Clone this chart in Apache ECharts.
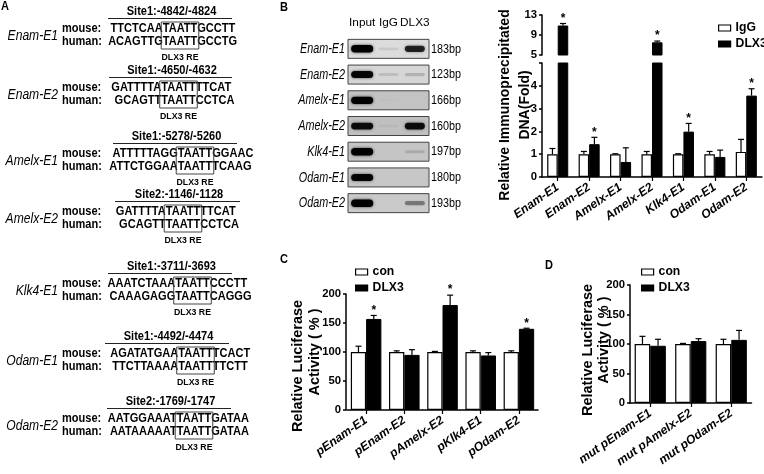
<!DOCTYPE html>
<html><head><meta charset="utf-8">
<script src="https://cdn.jsdelivr.net/npm/echarts@6/dist/echarts.min.js"></script>
<style>html,body{margin:0;padding:0;background:#fff}#c{width:764px;height:474px}</style>
</head><body><div id="c"></div>
<script>
// ---------------- DATA ----------------
// Panel A
const promoterNames = ['Enam-E1','Enam-E2','Amelx-E1','Amelx-E2','Klk4-E1','Odam-E1','Odam-E2'];
const siteLabels = ['Site1:-4842/-4824','Site1:-4650/-4632','Site1:-5278/-5260','Site2:-1146/-1128','Site1:-3711/-3693','Site1:-4492/-4474','Site2:-1769/-1747'];
const mouseSeqs = [['TTCTCAA','TAATT','GCCTT'],['GATTTTA','TAATT','TTCAT'],['ATTTTTAGG','TAATT','GGAAC'],['GATTTTA','TAATT','TTCAT'],['AAATCTAAA','TAATT','CCCTT'],['AGATATGAA','TAATT','TCACT'],['AATGGAAAT','TAATT','GATAA']];
const humanSeqs = [['ACAGTTG','TAATT','GCCTG'],['GCAGTT','TAATT','CCTCA'],['ATTCTGGAA','TAATT','TCAAG'],['GCAGTT','TAATT','CCTCA'],['CAAAGAGG','TAATT','CAGGG'],['TTCTTAAAA','TAATT','TTCTT'],['AATAAAAAT','TAATT','GATAA']];
const speciesLabels = ['mouse:','human:'];
const elementLabel = 'DLX3 RE';
// Panel B gel
const gelLanes = ['Input','IgG','DLX3'];
const gelRows = ['Enam-E1','Enam-E2','Amelx-E1','Amelx-E2','Klk4-E1','Odam-E1','Odam-E2'];
const gelBandSizes = ['183bp','123bp','166bp','160bp','197bp','180bp','193bp'];
const gelIntensity = [[1.0,0.08,0.75],[0.9,0.1,0.15],[0.95,0.02,0],[0.85,0.04,0.85],[1.0,0,0.12],[0.9,0,0],[1.0,0,0.35]];
// Panel B ChIP-qPCR
const chipCategories = ['Enam-E1','Enam-E2','Amelx-E1','Amelx-E2','Klk4-E1','Odam-E1','Odam-E2'];
const chipIgG = [1.0,1.0,1.0,1.0,1.0,1.0,1.1];
const chipIgGErr = [0.25,0.12,0.02,0.12,0.02,0.12,0.55];
const chipDLX3 = [10.9,1.44,0.66,7.54,1.99,0.88,3.57];
const chipDLX3Err = [0.4,0.3,0.62,0.25,0.36,0.3,0.3];
const chipSig = [1,1,0,1,1,0,1];
const chipBreak = 5;
const chipTop = 13;
// Panel C
const lucCategories = ['pEnam-E1','pEnam-E2','pAmelx-E2','pKlk4-E1','pOdam-E2'];
const lucCon = [100,100,100,100,100];
const lucConErr = [10,2,1,2,2];
const lucDLX3 = [157,95,181,94,140];
const lucDLX3Err = [6,9,17,5,1];
const lucSig = [1,0,1,0,1];
// Panel D
const mutCategories = ['mut pEnam-E1','mut pAmelx-E2','mut pOdam-E2'];
const mutCon = [100,100,100];
const mutConErr = [13,1,8];
const mutDLX3 = [97,105,107];
const mutDLX3Err = [11,4,16];
const mutSig = [0,0,0];

// ---------------- LAYOUT / STYLE ----------------
const blockY = [12,71,137,195,267,337,402];
const boxCX = [180,178.5,195,183,192.5,195.5,194];
const siteLineX = [[108,232],[109,232],[113,237],[115,240],[108,232],[105,229],[107,231]];
const gelShade = ['#dcdcdc','#d6d6d6','#c3c3c3','#c0c0c0','#c5c5c5','#c7c7c7','#cacaca'];
const LS = '"Liberation Sans", Arial, sans-serif';

function hasFont(name){
  const c=document.createElement('canvas').getContext('2d');
  const s='abcdefghijklmnopqrstuvwxyz ABCDEFGHIJ 0123456789';
  let diff=false;
  ['monospace','serif'].forEach(fb=>{c.font='24px '+fb;const a=c.measureText(s).width;c.font='24px "'+name+'", '+fb;const b=c.measureText(s).width;if(Math.abs(a-b)>0.5)diff=true;});
  return diff;
}
const NARROW = hasFont('Liberation Sans Narrow');
function af(size){return NARROW?{fontFamily:'"Liberation Sans Narrow"',fontSize:size}:{fontFamily:'"Liberation Sans"',fontSize:Math.round(size*0.84*10)/10};}
const mctx=document.createElement('canvas').getContext('2d');
function textW(t,font){mctx.font=font;return mctx.measureText(t).width;}

function txt(x,y,text,font,align,valign,extra){
  return Object.assign({type:'text',x:x,y:y,silent:true,style:{text:text,font:font,fill:'#000',align:align,textAlign:align,verticalAlign:valign,textVerticalAlign:valign}},extra||{});
}

// ---------------- GRAPHIC (panel A, letters, titles) ----------------
const seqFont='bold 12px '+LS;
const SQ=0.92;
const G=[];
G.push(txt(1,6,'A','bold 13px '+LS,'left','middle',{scaleX:0.85}));
G.push(txt(280,7,'B','bold 13px '+LS,'left','middle',{scaleX:0.85}));
G.push(txt(280,259,'C','bold 13px '+LS,'left','middle',{scaleX:0.85}));
G.push(txt(545,265,'D','bold 13px '+LS,'left','middle',{scaleX:0.85}));
promoterNames.forEach((name,i)=>{
  const Y=blockY[i], cx=boxCX[i];
  const cw=textW('TAATT',seqFont)*SQ;
  G.push(txt(58,Y+24,name,'italic 15.5px '+LS,'right','middle',{scaleX:0.78}));
  const lx=siteLineX[i];
  G.push(txt((lx[0]+lx[1])/2+1.5,Y,siteLabels[i],seqFont,'center','middle',{scaleX:SQ}));
  G.push({type:'line',silent:true,shape:{x1:lx[0],y1:Y+6.5,x2:lx[1],y2:Y+6.5},style:{stroke:'#222',lineWidth:1}});
  [mouseSeqs[i],humanSeqs[i]].forEach((seq,k)=>{
    const yy=Y+16.5+k*13.5;
    G.push(txt(62,yy,speciesLabels[k],seqFont,'left','middle',{scaleX:SQ}));
    G.push(txt(cx-cw/2,yy,seq[0],seqFont,'right','middle',{scaleX:SQ}));
    G.push(txt(cx,yy,seq[1],seqFont,'center','middle',{scaleX:SQ}));
    G.push(txt(cx+cw/2,yy,seq[2],seqFont,'left','middle',{scaleX:SQ}));
  });
  G.push({type:'rect',silent:true,shape:{x:cx-cw/2-1.5,y:Y+10,width:cw+3,height:27},style:{fill:'none',stroke:'#444',lineWidth:1}});
  G.push(txt(cx,Y+45,elementLabel,'bold 9.5px '+LS,'center','middle',{scaleX:0.92}));
});
// axis titles
function vtitle(x,y,t,size){return txt(x,y,t,'bold '+size+'px '+LS,'center','middle',{rotation:Math.PI/2});}
G.push(vtitle(505,105,'Relative Immunoprecipitated',14));
G.push(vtitle(525,105,'DNA(Fold)',14));
G.push(vtitle(298,366,'Relative Luciferase',14.5));
G.push(vtitle(315,352,'Activity ( % )',14.5));
G.push(vtitle(588,350,'Relative Luciferase',14.5));
G.push(vtitle(604,340,'Activity ( % )',14.5));

// ---------------- SERIES HELPERS ----------------
function makeErr(gap){
  return function(params,api){
    const cat=api.value(0),v=api.value(1),e=api.value(2),side=api.value(3),sig=api.value(4);
    const base=api.coord([cat,v]);const top=api.coord([cat,v+e]);
    const band=api.size([1,0])[0];const bw=band*(1-gap)/2;
    const x=base[0]+(side?bw/2:-bw/2);
    const ch=[];
    if(e>0){
      ch.push({type:'line',shape:{x1:x,y1:base[1],x2:x,y2:top[1]},style:{stroke:'#000',lineWidth:1.2}});
      ch.push({type:'line',shape:{x1:x-3,y1:top[1],x2:x+3,y2:top[1]},style:{stroke:'#000',lineWidth:1.2}});
    }
    if(sig)ch.push({type:'text',x:x,y:top[1]-5,style:{text:'*',font:'bold 12px '+LS,fill:'#000',align:'center',textAlign:'center',verticalAlign:'middle',textVerticalAlign:'middle'}});
    return {type:'group',children:ch};
  };
}
function errData(vals,errs,side,sig,filter){
  const out=[];vals.forEach((v,i)=>{if(!filter||filter(v))out.push([i,v,errs[i],side,sig?sig[i]:0]);});return out;
}
const whiteBar={color:'#fff',borderColor:'#000',borderWidth:1.2};
const blackBar={color:'#000',borderColor:'#000',borderWidth:1};

function gelFrame(params,api){
  const row=api.value(1);const cs=params.coordSys;const cy=api.coord([0,row])[1];const h=19;
  return {type:'group',children:[
    {type:'rect',shape:{x:cs.x-1,y:cy-h/2,width:cs.width+2,height:h},style:{fill:gelShade[row],stroke:'#444',lineWidth:1}},
    {type:'text',x:cs.x-4,y:cy,scaleX:0.72,style:{text:gelRows[row],font:'italic 15px '+LS,fill:'#000',align:'right',textAlign:'right',verticalAlign:'middle',textVerticalAlign:'middle'}},
    {type:'text',x:cs.x+cs.width+3,y:cy,scaleX:0.8,style:{text:gelBandSizes[row],font:'13.5px '+LS,fill:'#000',align:'left',textAlign:'left',verticalAlign:'middle',textVerticalAlign:'middle'}}
  ]};
}
function gelBand(params,api){
  const lane=api.value(0),row=api.value(1),v=api.value(2);
  const p=api.coord([lane,row]);const w=lane===0?22:20;const h=2.5+5*v;
  return {type:'rect',shape:{x:p[0]-w/2,y:p[1]-h/2,width:w,height:h,r:h/2},style:{fill:'rgba(0,0,0,'+Math.min(1,v*1.05)+')',shadowBlur:3,shadowColor:'rgba(0,0,0,'+(v*0.7)+')'}};
}
const gelData=[];gelIntensity.forEach((r,i)=>r.forEach((v,j)=>{if(v>0)gelData.push([j,i,v]);}));

// ---------------- AXES ----------------
const xLab=Object.assign({interval:0,rotate:35,margin:9,color:'#000',fontWeight:'bold',fontStyle:'italic'},af(14.5));
function yAx(gi,min,max,interval,extra){
  return Object.assign({type:'value',gridIndex:gi,min:min,max:max,interval:interval,
    axisLine:{show:true,lineStyle:{color:'#000',width:1.5}},
    axisTick:{show:true,length:3,lineStyle:{color:'#000',width:1.5}},
    splitLine:{show:false},
    axisLabel:Object.assign({color:'#000',fontWeight:'bold',margin:5},af(13.5))},extra||{});
}
function xAx(gi,data,extra){
  return Object.assign({type:'category',gridIndex:gi,data:data,
    axisLine:{show:true,lineStyle:{color:'#000',width:1.5}},
    axisTick:{show:true,alignWithLabel:true,length:4,lineStyle:{color:'#000',width:1.2}},
    axisLabel:xLab},extra||{});
}
const legText=Object.assign({color:'#000',fontWeight:'bold',lineHeight:13},af(14.5));
function leg(data,left,top){return {data:data,left:left,top:top,orient:'vertical',icon:'rect',itemWidth:12,itemHeight:6,itemGap:3,itemStyle:{borderWidth:1.2,borderColor:'#000'},textStyle:legText,selectedMode:false};}

const option={
  animation:false,backgroundColor:'#fff',
  grid:[
    {left:349,top:36,width:79,height:180},
    {left:542,top:63,width:220,height:114},
    {left:542,top:15,width:220,height:40},
    {left:347,top:294,width:191,height:116},
    {left:630,top:285,width:121.5,height:118}
  ],
  xAxis:[
    {type:'category',gridIndex:0,data:gelLanes,position:'top',axisLine:{show:false},axisTick:{show:false},axisLabel:Object.assign({interval:0,color:'#000',margin:7},af(14))},
    xAx(1,chipCategories),
    xAx(2,chipCategories,{show:false}),
    xAx(3,lucCategories),
    xAx(4,mutCategories)
  ],
  yAxis:[
    {type:'category',gridIndex:0,data:gelRows,inverse:true,show:false},
    yAx(1,0,chipBreak,1,{axisLabel:Object.assign({color:'#000',fontWeight:'bold',margin:5,formatter:v=>v===chipBreak?'':String(v)},af(13.5))}),
    yAx(2,chipBreak,chipTop,4),
    yAx(3,0,200,50,{offset:1}),
    yAx(4,0,200,50)
  ],
  legend:[leg(['IgG','DLX3'],713,16.5),leg(['con','DLX3'],350,260.5),leg(['con','DLX3'],636,260.5)],
  series:[
    {type:'custom',xAxisIndex:0,yAxisIndex:0,data:gelRows.map((n,i)=>[0,i]),encode:{x:0,y:1},renderItem:gelFrame,silent:true,z:1},
    {type:'custom',xAxisIndex:0,yAxisIndex:0,data:gelData,encode:{x:0,y:1},renderItem:gelBand,silent:true,z:2},
    {name:'IgG',type:'bar',xAxisIndex:1,yAxisIndex:1,data:chipIgG,barGap:'0%',barCategoryGap:'33%',itemStyle:whiteBar,clip:true},
    {name:'DLX3',type:'bar',xAxisIndex:1,yAxisIndex:1,data:chipDLX3,itemStyle:blackBar,clip:true},
    {type:'custom',xAxisIndex:1,yAxisIndex:1,renderItem:makeErr(0.33),encode:{x:0,y:1},z:5,silent:true,
      data:errData(chipIgG,chipIgGErr,0,null,v=>v<=chipBreak).concat(errData(chipDLX3,chipDLX3Err,1,chipSig,v=>v<=chipBreak))},
    {name:'IgG',type:'bar',xAxisIndex:2,yAxisIndex:2,data:chipIgG.map(v=>v>chipBreak?v:'-'),barGap:'0%',barCategoryGap:'33%',itemStyle:whiteBar,clip:true},
    {name:'DLX3',type:'bar',xAxisIndex:2,yAxisIndex:2,data:chipDLX3.map(v=>v>chipBreak?v:'-'),itemStyle:blackBar,clip:true},
    {type:'custom',xAxisIndex:2,yAxisIndex:2,renderItem:makeErr(0.33),encode:{x:0,y:1},z:5,silent:true,clip:false,
      data:errData(chipIgG,chipIgGErr,0,null,v=>v>chipBreak).concat(errData(chipDLX3,chipDLX3Err,1,chipSig,v=>v>chipBreak))},
    {name:'con',type:'bar',xAxisIndex:3,yAxisIndex:3,data:lucCon,barGap:'0%',barCategoryGap:'20%',itemStyle:whiteBar},
    {name:'DLX3',type:'bar',xAxisIndex:3,yAxisIndex:3,data:lucDLX3,itemStyle:blackBar},
    {type:'custom',xAxisIndex:3,yAxisIndex:3,renderItem:makeErr(0.20),encode:{x:0,y:1},z:5,silent:true,
      data:errData(lucCon,lucConErr,0,null).concat(errData(lucDLX3,lucDLX3Err,1,lucSig))},
    {name:'con',type:'bar',xAxisIndex:4,yAxisIndex:4,data:mutCon,barGap:'0%',barCategoryGap:'23%',itemStyle:whiteBar},
    {name:'DLX3',type:'bar',xAxisIndex:4,yAxisIndex:4,data:mutDLX3,itemStyle:blackBar},
    {type:'custom',xAxisIndex:4,yAxisIndex:4,renderItem:makeErr(0.23),encode:{x:0,y:1},z:5,silent:true,
      data:errData(mutCon,mutConErr,0,null).concat(errData(mutDLX3,mutDLX3Err,1,mutSig))}
  ],
  graphic:{elements:G}
};
const chart=echarts.init(document.getElementById('c'),null,{renderer:'canvas'});
chart.setOption(option);
</script></body></html>
